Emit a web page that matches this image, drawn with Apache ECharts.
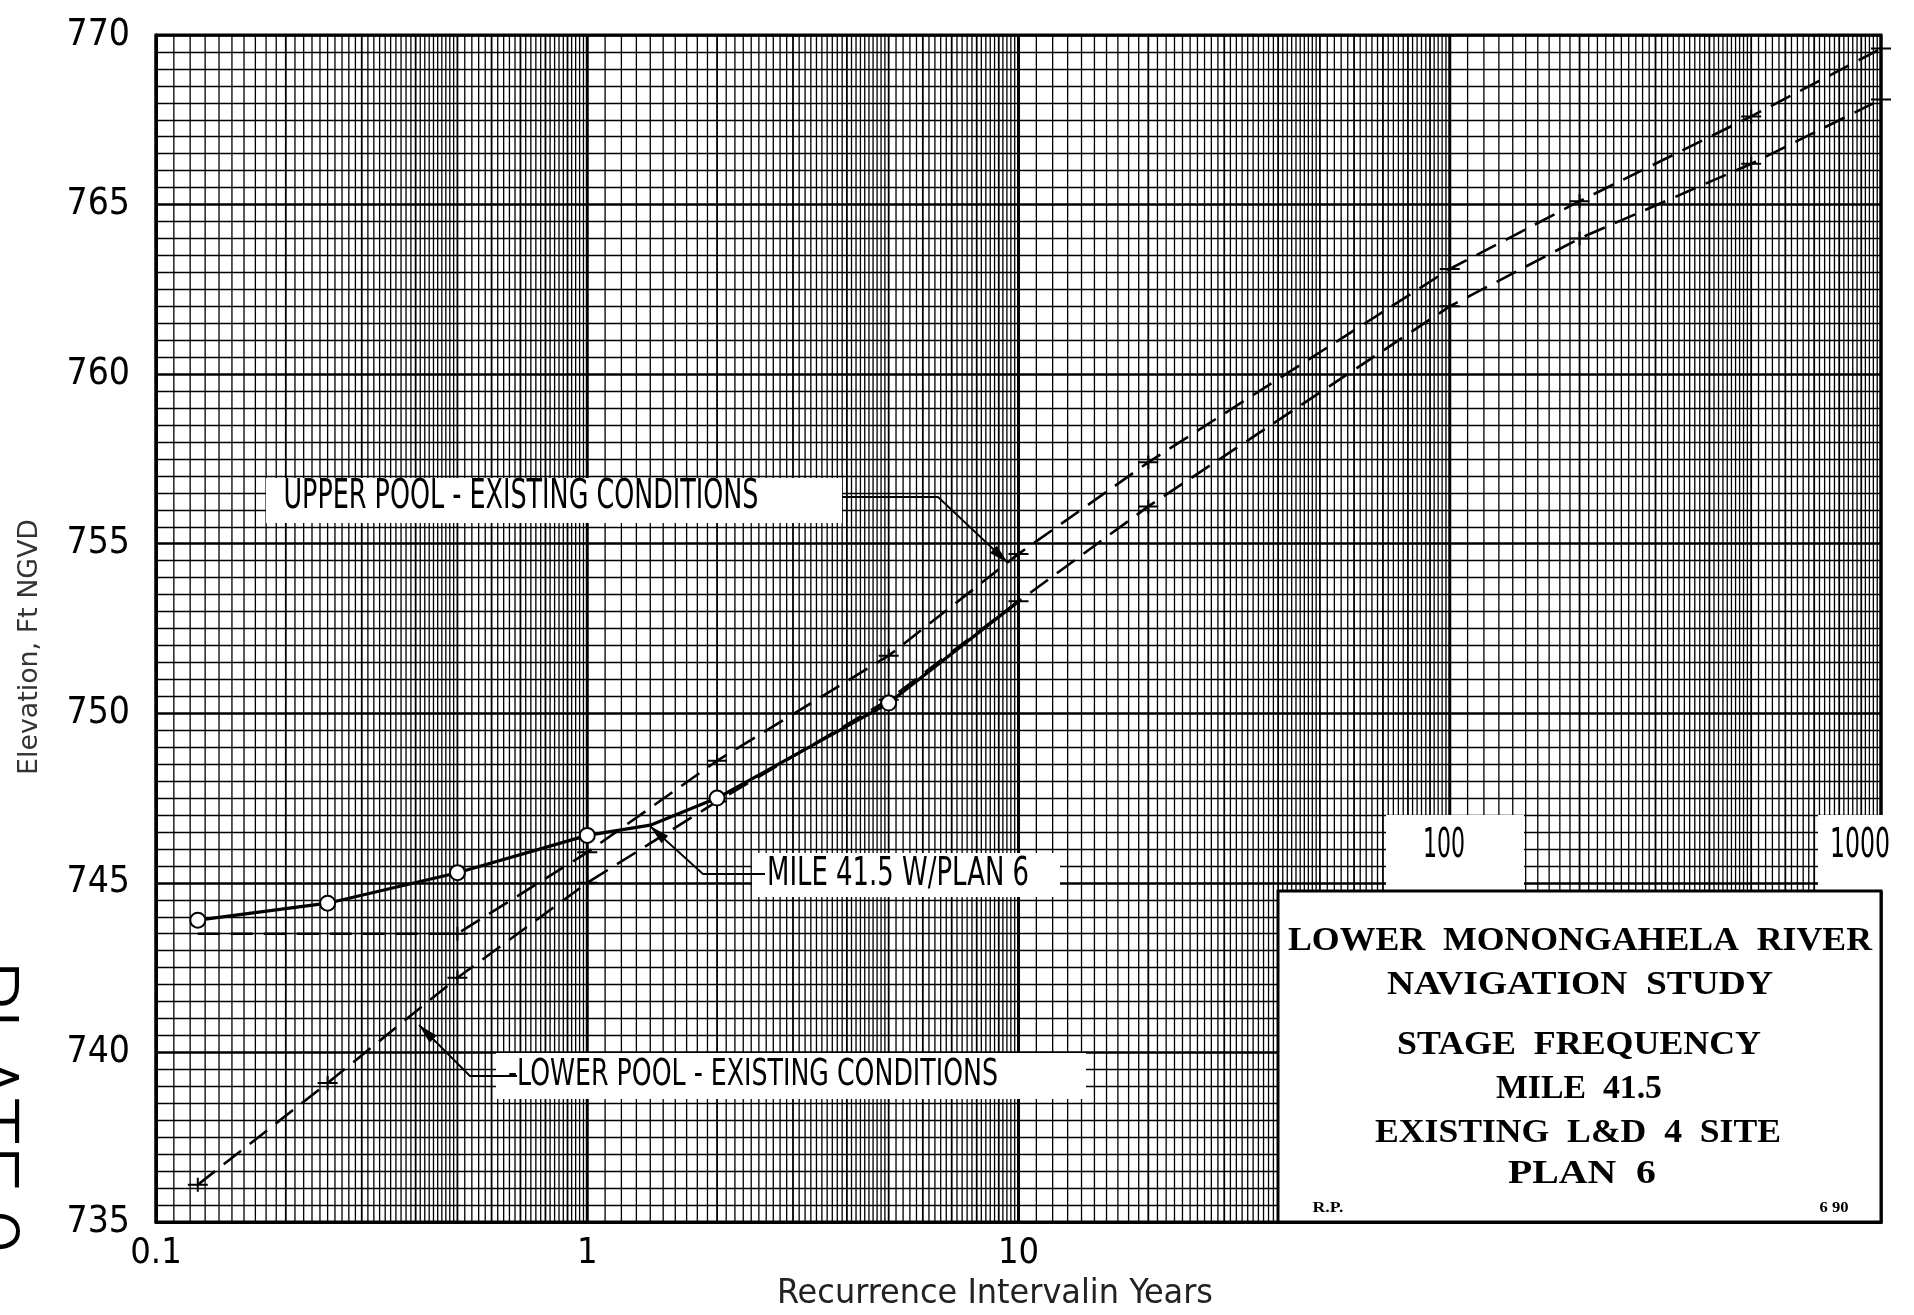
<!DOCTYPE html>
<html><head><meta charset="utf-8">
<script src="https://cdn.jsdelivr.net/npm/echarts@6/dist/echarts.min.js"></script>
<style>html,body{margin:0;padding:0;background:#fff}#c{width:1914px;height:1315px}</style>
</head><body><div id="c"></div>
<script>
// ---- data ----
const yTickLabels = ['735','740','745','750','755','760','765','770'];
const xTickLabels = ['0.1','1','10'];          // bottom labels (100 and 1000 are drawn in boxes)
const upperPool = [[0.125,743.5],[0.5,743.5],[1,745.9],[2,748.6],[5,751.7],[10,754.7],[20,757.4],[100,763.1],[200,765.1],[500,767.6],[1000,769.6]];
const upperMarks = [0,1,1,1,1,1,1,1,1,1,1];
const lowerPool = [[0.125,736.1],[0.25,739.1],[0.5,742.2],[1,745.0],[2,747.4],[5,750.4],[10,753.3],[20,756.1],[100,762.0],[200,764.0],[500,766.2],[1000,768.1]];
const lowerMarks = [1,1,1,1,1,1,1,1,1,1,1,1];
const mile415 = [[0.125,743.9],[0.25,744.4],[0.5,745.3],[1,746.4],[1.4,746.7],[2,747.5],[5,750.3],[10,753.3]];
const mileMarks = [1,1,1,1,0,1,1,0];

const CAD = '"Liberation Sans Narrow", "DejaVu Sans Condensed", "Roboto Condensed", "Noto Sans", sans-serif';
const SERIF = '"Liberation Serif", "DejaVu Serif", serif';

// log-paper vertical rulings (style, not data): 1-5 step 0.1, 5-10 step 0.2 in every decade
const vLines = [];
[0.1,1,10,100].forEach(b=>{
  for(let i=10;i<100;i++){
    if(i>=50 && i%2===1) continue;
    vLines.push([+(b*i/10).toPrecision(6), 752, i===10?2:(i%10===0?1:0)]);
  }
});
vLines.push([1000,752,2]);

const ctx = document.createElement('canvas').getContext('2d');
function fitText(text, cx, cy, targetW, size, family, weight, extra, fill){
  ctx.font = (weight||'normal')+' '+size+'px '+family;
  const w = ctx.measureText(text).width;
  return Object.assign({type:'text', x:cx, y:cy, scaleX: targetW/w, z:120,
    style:{text:text, fill:fill||'#000', fontSize:size, fontFamily:family, fontWeight:weight||'normal',
      align:'center', verticalAlign:'middle', textAlign:'center', textVerticalAlign:'middle'}}, extra||{});
}
function arrowHead(from, tip){
  const dx=tip[0]-from[0], dy=tip[1]-from[1], L=Math.hypot(dx,dy), ux=dx/L, uy=dy/L;
  const len=20, hw=5, bx=tip[0]-ux*len, by=tip[1]-uy*len;
  return {type:'polygon', z:121, shape:{points:[tip,[bx-uy*hw,by+ux*hw],[bx+uy*hw,by-ux*hw]]}, style:{fill:'#000'}};
}
function leader(pts){
  return [{type:'polyline', z:121, shape:{points:pts}, style:{stroke:'#000', lineWidth:1.8, fill:null}},
          arrowHead(pts[pts.length-2], pts[pts.length-1])];
}
const plus = 'path://M0,6 L20,6 L20,8 L0,8 Z M9,0 L11,0 L11,14 L9,14 Z';

const graphics = [
  // label boxes
  {type:'rect', z:110, shape:{x:266,y:478,width:576,height:45}, style:{fill:'#fff'}},
  {type:'rect', z:110, shape:{x:752,y:853,width:308,height:44}, style:{fill:'#fff'}},
  {type:'rect', z:110, shape:{x:496,y:1053,width:590,height:46}, style:{fill:'#fff'}},
  {type:'rect', z:110, shape:{x:1386,y:815,width:138,height:76}, style:{fill:'#fff'}},
  {type:'rect', z:110, shape:{x:1818,y:815,width:90,height:76}, style:{fill:'#fff'}},
  {type:'rect', z:110, shape:{x:1278,y:891,width:603,height:331}, style:{fill:'#fff', stroke:'#000', lineWidth:3}},
  fitText('UPPER POOL - EXISTING CONDITIONS', 521, 498, 475, 40, CAD),
  fitText('MILE 41.5 W/PLAN 6', 898, 875, 262, 39, CAD),
  fitText('-LOWER POOL - EXISTING CONDITIONS', 753, 1075, 490, 38, CAD),
  fitText('100', 1444, 847, 42, 40, CAD),
  fitText('1000', 1860, 847, 60, 40, CAD),
  fitText('LOWER  MONONGAHELA  RIVER', 1580, 941, 584, 33, SERIF, 'bold'),
  fitText('NAVIGATION  STUDY', 1580, 985, 386, 33, SERIF, 'bold'),
  fitText('STAGE  FREQUENCY', 1579, 1045, 364, 33, SERIF, 'bold'),
  fitText('MILE  41.5', 1579, 1089, 166, 33, SERIF, 'bold'),
  fitText('EXISTING  L&D  4  SITE', 1578, 1133, 406, 33, SERIF, 'bold'),
  fitText('PLAN  6', 1582, 1174, 148, 33, SERIF, 'bold'),
  fitText('R.P.', 1328, 1208, 31, 14, SERIF, 'bold'),
  fitText('6 90', 1834, 1208, 29, 14, SERIF, 'bold'),
  fitText('Recurrence Intervalin Years', 995, 1294, 436, 33, CAD, 'normal', null, '#222'),
  fitText('Elevation, Ft NGVD', 30, 647, 256, 27, CAD, 'normal', {rotation:Math.PI/2}, '#333'),
  {type:'text', z:120, x:22, y:960, rotation:-Math.PI/2, style:{text:'PLATE 9', fill:'#000', fontSize:80, fontFamily:'Roboto, "Open Sans", sans-serif', fontWeight:300, align:'left', verticalAlign:'top', textAlign:'left', textVerticalAlign:'top'}}
].concat(
  leader([[842,497],[938,497],[1008,563]]),
  leader([[765,874],[703,874],[650,826]]),
  leader([[517,1076],[470,1076],[419,1025]])
);

const chart = echarts.init(document.getElementById('c'), null, {renderer:'canvas'});
chart.setOption({
  animation:false,
  backgroundColor:'#fff',
  grid:{left:156, right:33, top:35, bottom:93, show:true, borderColor:'#000', borderWidth:3, backgroundColor:'#fff'},
  xAxis:{type:'log', logBase:10, min:0.1, max:1000,
    axisLine:{show:true, lineStyle:{color:'#000', width:3}},
    axisTick:{show:false}, splitLine:{show:false},
    axisLabel:{fontSize:36, fontFamily:CAD, color:'#000', margin:14,
      formatter:(v)=>{const i=Math.round(Math.log10(v))+1; return xTickLabels[i]||'';}}},
  yAxis:{type:'value', min:735, max:770, interval:5,
    axisLine:{show:true, lineStyle:{color:'#000', width:3}},
    axisTick:{show:false},
    axisLabel:{fontSize:37, fontFamily:CAD, color:'#000', margin:26, padding:[0,0,20,0],
      formatter:(v)=>yTickLabels[Math.round((v-735)/5)]},
    splitLine:{show:true, lineStyle:{color:'#000', width:2.6}},
    minorTick:{show:false, splitNumber:10},
    minorSplitLine:{show:true, lineStyle:{color:'#000', width:1.4}}},
  series:[
    {type:'custom', silent:true, z:1, data:vLines, encode:{x:0,y:1},
      renderItem:(p,api)=>{const x=api.value(0), w=api.value(2); const a=api.coord([x,735]), b=api.coord([x,770]);
        return {type:'line', shape:{x1:a[0],y1:a[1],x2:b[0],y2:b[1]}, style:{stroke:'#000', lineWidth: w===2?3:(w===1?1.8:1.3)}};}},
    {type:'line', name:'Upper Pool - Existing Conditions', z:5,
      data: upperPool.map((d,i)=>({value:d, symbol: upperMarks[i]?plus:'none'})),
      symbolSize:[20,14], itemStyle:{color:'#000'},
      lineStyle:{color:'#000', width:2.6, type:[22,11]}},
    {type:'line', name:'Lower Pool - Existing Conditions', z:5,
      data: lowerPool.map((d,i)=>({value:d, symbol: lowerMarks[i]?plus:'none'})),
      symbolSize:[20,14], itemStyle:{color:'#000'},
      lineStyle:{color:'#000', width:2.6, type:[22,11]}},
    {type:'line', name:'Mile 41.5 w/Plan 6', z:6,
      data: mile415.map((d,i)=>({value:d, symbol: mileMarks[i]?'emptyCircle':'none'})),
      symbolSize:15, itemStyle:{color:'#000', borderColor:'#000', borderWidth:2.2},
      lineStyle:{color:'#000', width:3.2}}
  ],
  graphic:{elements:graphics}
});
</script></body></html>
